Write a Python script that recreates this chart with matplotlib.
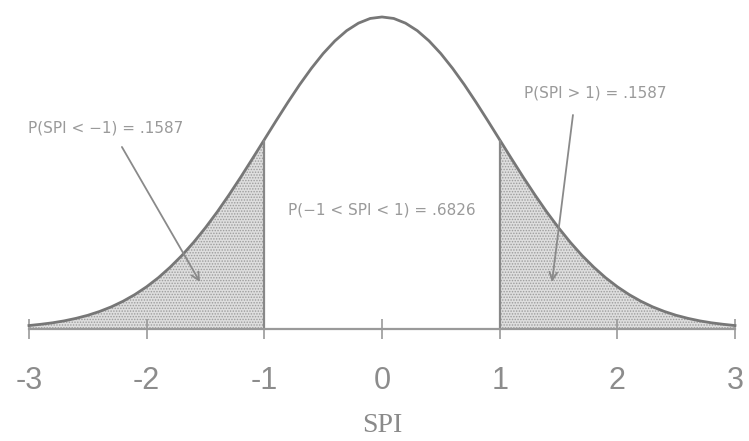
import matplotlib
matplotlib.use("Agg")
import matplotlib.pyplot as plt

# Curve samples (SPI vs density)
spi = [round(-3 + 0.1 * i, 1) for i in range(61)]
density = [0.0044, 0.0060, 0.0079, 0.0104, 0.0136, 0.0175, 0.0224, 0.0283, 0.0355, 0.0440,
           0.0540, 0.0656, 0.0790, 0.0940, 0.1109, 0.1295, 0.1497, 0.1714, 0.1942, 0.2179,
           0.2420, 0.2661, 0.2897, 0.3123, 0.3332, 0.3521, 0.3683, 0.3814, 0.3910, 0.3970,
           0.3989,
           0.3970, 0.3910, 0.3814, 0.3683, 0.3521, 0.3332, 0.3123, 0.2897, 0.2661, 0.2420,
           0.2179, 0.1942, 0.1714, 0.1497, 0.1295, 0.1109, 0.0940, 0.0790, 0.0656, 0.0540,
           0.0440, 0.0355, 0.0283, 0.0224, 0.0175, 0.0136, 0.0104, 0.0079, 0.0060, 0.0044]

tick_values = [-3, -2, -1, 0, 1, 2, 3]
tick_labels = ["-3", "-2", "-1", "0", "1", "2", "3"]
cut_low, cut_high = -1, 1
label_left = "P(SPI < \u22121) = .1587"
label_right = "P(SPI > 1) = .1587"
label_mid = "P(\u22121 < SPI < 1) = .6826"
x_label = "SPI"

plt.rcParams['hatch.color'] = '#9c9c9c'
plt.rcParams['hatch.linewidth'] = 0.7

fig = plt.figure(figsize=(7.49, 4.41), dpi=100)
ax = fig.add_axes([0, 0, 1, 1])
ax.set_xlim(-3.246, 3.119)
ax.set_ylim(-0.1432, 0.4206)

line_col = '#777777'

left_x = [x for x in spi if x <= cut_low]
left_y = [d for x, d in zip(spi, density) if x <= cut_low]
right_x = [x for x in spi if x >= cut_high]
right_y = [d for x, d in zip(spi, density) if x >= cut_high]

for xs, ys in ((left_x, left_y), (right_x, right_y)):
    ax.fill_between(xs, 0, ys, facecolor='#dedede', hatch='......', edgecolor='#9c9c9c', linewidth=0)

ax.plot(spi, density, color=line_col, lw=2.0)
d_low = density[spi.index(cut_low)]
d_high = density[spi.index(cut_high)]
ax.vlines([cut_low, cut_high], 0, [d_low, d_high], color='#888888', lw=1.6)

# axis
for s in ('top', 'right', 'left'):
    ax.spines[s].set_visible(False)
ax.spines['bottom'].set_position(('data', 0))
ax.spines['bottom'].set_bounds(-3, 3)
ax.spines['bottom'].set_color('#9a9a9a')
ax.spines['bottom'].set_linewidth(1.6)
ax.set_yticks([])
ax.set_xticks(tick_values)
ax.set_xticklabels(tick_labels, fontsize=22, color='#8c8c8c', family='Liberation Sans')
ax.tick_params(axis='x', direction='inout', length=15, width=1.2, color='#999999', pad=19)

ax.text(0, -0.124, x_label, ha='center', va='center', fontsize=20, color='#8a8a8a',
        family='Liberation Serif')

txt_col = '#9a9a9a'
ax.text(-2.35, 0.257, label_left, ha='center', va='center', fontsize=11, color=txt_col)
ax.text(1.81, 0.3018, label_right, ha='center', va='center', fontsize=11, color=txt_col)
ax.text(0, 0.152, label_mid, ha='center', va='center', fontsize=11, color=txt_col)

arrow = dict(arrowstyle='->', color='#8a8a8a', lw=1.3, mutation_scale=14, shrinkA=0, shrinkB=0)
ax.annotate('', xy=(-1.547, 0.0601), xytext=(-2.21, 0.2327), arrowprops=arrow)
ax.annotate('', xy=(1.445, 0.0601), xytext=(1.623, 0.2736), arrowprops=arrow)

fig.savefig('out.png', dpi=100)
